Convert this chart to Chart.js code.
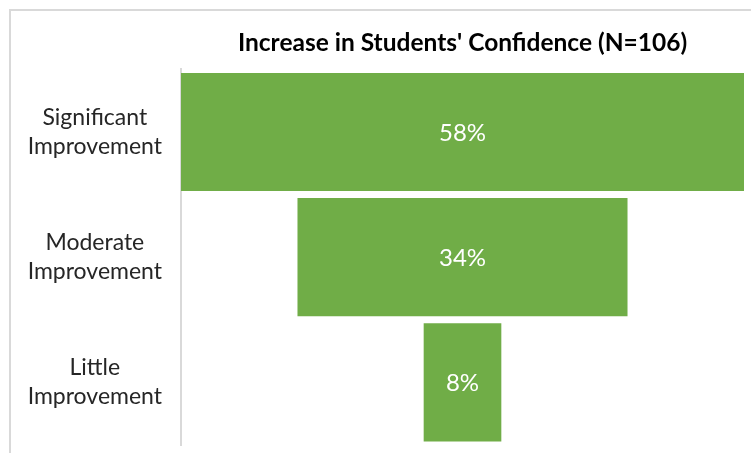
<!DOCTYPE html>
<html>
<head>
<meta charset="utf-8">
<script src="https://cdn.jsdelivr.net/npm/chart.js@4"></script>
<style>
  html, body { margin: 0; padding: 0; background: #fff; }
  #wrap { position: relative; width: 751px; height: 453px; overflow: hidden; }
  #frame { position: absolute; left: 9px; top: 9px; width: 800px; height: 500px; border: 2px solid #d9d9d9; box-sizing: border-box; }
  canvas { position: absolute; left: 0; top: 0; }
</style>
</head>
<body>
<div id="wrap">
  <div id="frame"></div>
  <canvas id="chart" width="751" height="453"></canvas>
</div>
<script>
  const categories = [['Significant', 'Improvement'], ['Moderate', 'Improvement'], ['Little', 'Improvement']];
  const values = [58, 34, 8];
  const valueLabels = ['58%', '34%', '8%'];
  const maxValue = 58;

  const green = '#70ad47';
  const font = "Lato, 'Open Sans', sans-serif";

  // draws the percentage in the middle of each bar
  const barLabels = {
    id: 'barLabels',
    afterDatasetsDraw(chart) {
      const ctx = chart.ctx;
      const meta = chart.getDatasetMeta(0);
      ctx.save();
      ctx.fillStyle = '#ffffff';
      ctx.font = '24px ' + font;
      ctx.textAlign = 'center';
      ctx.textBaseline = 'middle';
      meta.data.forEach((bar, i) => {
        const p = bar.getProps(['x', 'base', 'y'], true);
        ctx.fillText(valueLabels[i], (p.x + p.base) / 2, p.y + 1);
      });
      ctx.restore();
    }
  };

  new Chart(document.getElementById('chart'), {
    type: 'bar',
    data: {
      labels: categories,
      datasets: [{
        data: values.map((v) => [-v / 2, v / 2]),
        backgroundColor: green,
        borderWidth: 0,
        barPercentage: 1,
        categoryPercentage: 0.944
      }]
    },
    options: {
      indexAxis: 'y',
      responsive: false,
      animation: false,
      layout: { padding: { left: 0, right: 7, top: 0, bottom: 8 } },
      plugins: {
        legend: { display: false },
        tooltip: { enabled: false },
        title: {
          display: true,
          fullSize: false,
          text: "Increase in Students' Confidence (N=106)",
          color: '#000',
          font: { family: font, size: 24.5, weight: 'bold', lineHeight: 1.2 },
          padding: { top: 28, bottom: 12 }
        }
      },
      scales: {
        x: { display: false, min: -maxValue / 2, max: maxValue / 2 },
        y: {
          grid: { display: false, drawTicks: false },
          border: { display: true, color: '#d9d9d9', width: 2 },
          ticks: {
            color: '#262626',
            padding: 19,
            crossAlign: 'center',
            font: { family: font, size: 23, lineHeight: 1.26 }
          },
          afterFit(scale) {
            scale.width = 181;
            scale.paddingTop = 0;
            scale.paddingBottom = 0;
          }
        }
      }
    },
    plugins: [barLabels]
  });
</script>
</body>
</html>
